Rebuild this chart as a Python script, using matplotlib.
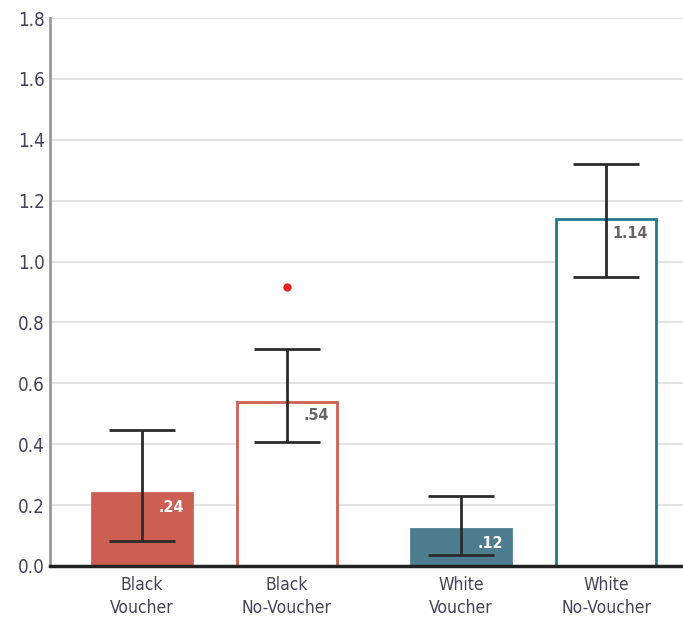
import matplotlib
matplotlib.use("Agg")
import matplotlib.pyplot as plt
from matplotlib import font_manager

# data
categories = ["Black\nVoucher", "Black\nNo-Voucher", "White\nVoucher", "White\nNo-Voucher"]
values = [0.24, 0.54, 0.12, 1.14]
err_low = [0.082, 0.407, 0.036, 0.95]
err_high = [0.447, 0.713, 0.23, 1.32]
value_labels = [".24", ".54", ".12", "1.14"]
positions = [0, 1, 2.2, 3.2]
dot_x = [1]
dot_y = [0.917]

names = {f.name for f in font_manager.fontManager.ttflist}
fam = "Liberation Sans Narrow" if "Liberation Sans Narrow" in names else "DejaVu Sans"
plt.rcParams['font.family'] = [fam, 'DejaVu Sans']
plt.rcParams['font.stretch'] = 'condensed'

red = "#cd5f52"
teal_fill = "#4d7d8e"
teal_edge = "#1f7b8c"
face = [red, "white", teal_fill, "white"]
edge = [red, red, teal_fill, teal_edge]
label_col = ["white", "#666666", "white", "#666666"]

fig = plt.figure(figsize=(6.83, 6.21), dpi=100)
ax = fig.add_axes([0.073, 0.0886, 0.927, 0.8824])

ax.bar(positions, values, width=0.69, color=face, edgecolor=edge, linewidth=2, zorder=2)

yerr = [[v - lo for v, lo in zip(values, err_low)], [hi - v for v, hi in zip(values, err_high)]]
ax.errorbar(positions, values, yerr=yerr, fmt="none", ecolor="#2b2b2b", elinewidth=2,
            capsize=24, capthick=2, zorder=3)

for x, v, t, c in zip(positions, values, value_labels, label_col):
    ax.text(x + 0.29, v - 0.022, t, ha="right", va="top", color=c, fontsize=11.5,
            fontweight="bold", zorder=4)

ax.plot(dot_x, dot_y, "o", color="#e8201c", markersize=5, zorder=4)

ax.set_ylim(0, 1.8)
ax.set_xlim(-0.634, 3.73)
ax.set_yticks([0, 0.2, 0.4, 0.6, 0.8, 1.0, 1.2, 1.4, 1.6, 1.8])
ax.set_yticklabels([f"{t:.1f}" for t in ax.get_yticks()])
ax.set_xticks(positions)
ax.set_xticklabels(categories, linespacing=1.35)
ax.tick_params(axis="both", length=0, labelsize=13.5, labelcolor="#444455")
ax.tick_params(axis="x", pad=7, labelsize=12.5)

ax.yaxis.grid(True, color="#e3e3e3", linewidth=1.5, zorder=0)
ax.set_axisbelow(True)
for s in ["top", "right"]:
    ax.spines[s].set_visible(False)
ax.spines["left"].set_color("#999999")
ax.spines["left"].set_linewidth(2)
ax.spines["bottom"].set_color("#222222")
ax.spines["bottom"].set_linewidth(2.5)

fig.savefig("out.png", dpi=100)
